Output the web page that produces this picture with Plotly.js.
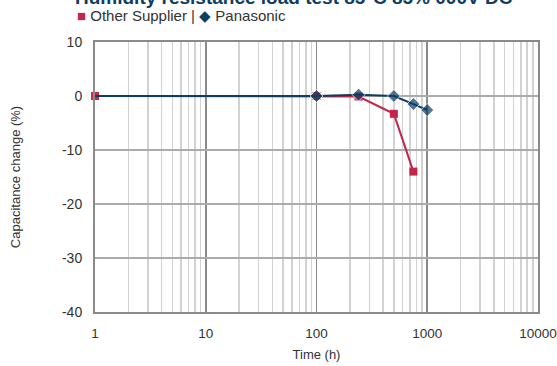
<!DOCTYPE html>
<html>
<head>
<meta charset="utf-8">
<script src="https://cdn.plot.ly/plotly-3.0.1.min.js"></script>
<style>html,body{margin:0;padding:0;background:#fff;}#chart{width:557px;height:366px;}</style>
</head>
<body>
<div id="chart"></div>
<script>
const timeOther = [1, 100, 240, 500, 750];
const capOther = [0, 0, -0.1, -3.3, -14];
const timePana = [1, 100, 240, 500, 750, 1000];
const capPana = [0, 0, 0.25, 0, -1.5, -2.6];
const xTickVals = [1, 10, 100, 1000, 10000];
const xTickText = ['1', '10', '100', '1000', '10000'];
const yTickVals = [10, 0, -10, -20, -30, -40];
const yTickText = ['10', '0', '-10', '-20', '-30', '-40'];
const titleText = 'Humidity resistance load test 85°C 85% 000V DC';
const seriesNames = ['Other Supplier', 'Panasonic'];

const red = '#c1264b';
const navy = '#0e3d63';
const font = 'Liberation Sans, Arial, sans-serif';

const traces = [
  {x: timeOther, y: capOther, name: seriesNames[0], mode: 'lines+markers',
   line: {color: red, width: 2}, marker: {symbol: 'square', size: 8, color: red}, cliponaxis: false},
  {x: timePana, y: capPana, name: seriesNames[1], mode: 'lines+markers',
   line: {color: navy, width: 2}, marker: {symbol: 'diamond', size: [0, 10, 10, 10, 10, 10], color: navy}, cliponaxis: false}
];

const layout = {
  width: 557, height: 366,
  margin: {l: 95, r: 19, t: 42, b: 54},
  paper_bgcolor: '#fff', plot_bgcolor: '#fff',
  showlegend: false,
  font: {family: font, color: '#333', size: 13},
  title: {text: '<b>' + titleText + '</b>', font: {family: font, size: 19, color: navy},
          xref: 'container', yref: 'container', x: 75/557, xanchor: 'left', y: 1 - 4/366, yanchor: 'bottom'},
  xaxis: {type: 'log', range: [-0.0005, 4.0005], tickvals: xTickVals, ticktext: xTickText,
          showgrid: true, gridcolor: '#8a8a8a', gridwidth: 1.5,
          minor: {dtick: 'D1', showgrid: true, gridcolor: '#d2d2d2', gridwidth: 1.5},
          showline: true, linecolor: '#8a8a8a', linewidth: 2, mirror: true,
          ticks: '', ticklabelstandoff: 8, ticklabeloverflow: 'allow', tickfont: {size: 13.5, color: '#333'},
          title: {text: 'Time (h)', font: {size: 13, color: '#333'}, standoff: 10},
          zeroline: false},
  yaxis: {range: [-40, 10], tickvals: yTickVals, ticktext: yTickText,
          showgrid: true, gridcolor: '#ababab', gridwidth: 1.5,
          showline: true, linecolor: '#8a8a8a', linewidth: 2, mirror: true,
          ticks: '', ticklabelstandoff: 8, tickfont: {size: 14, color: '#333'},
          title: {text: 'Capacitance change (%)', font: {size: 13, color: '#333'}, standoff: 38},
          zeroline: false},
  annotations: [{
    xref: 'paper', yref: 'paper', x: -20/443, y: 1 + 26/270, xanchor: 'left', yanchor: 'middle',
    showarrow: false, align: 'left',
    text: '<span style="color:' + red + '">■</span> ' + seriesNames[0] + ' | <span style="color:' + navy + '">◆</span> ' + seriesNames[1],
    font: {family: font, size: 15, color: '#333'}
  }]
};

Plotly.newPlot('chart', traces, layout, {displayModeBar: false, staticPlot: true});
</script>
</body>
</html>
